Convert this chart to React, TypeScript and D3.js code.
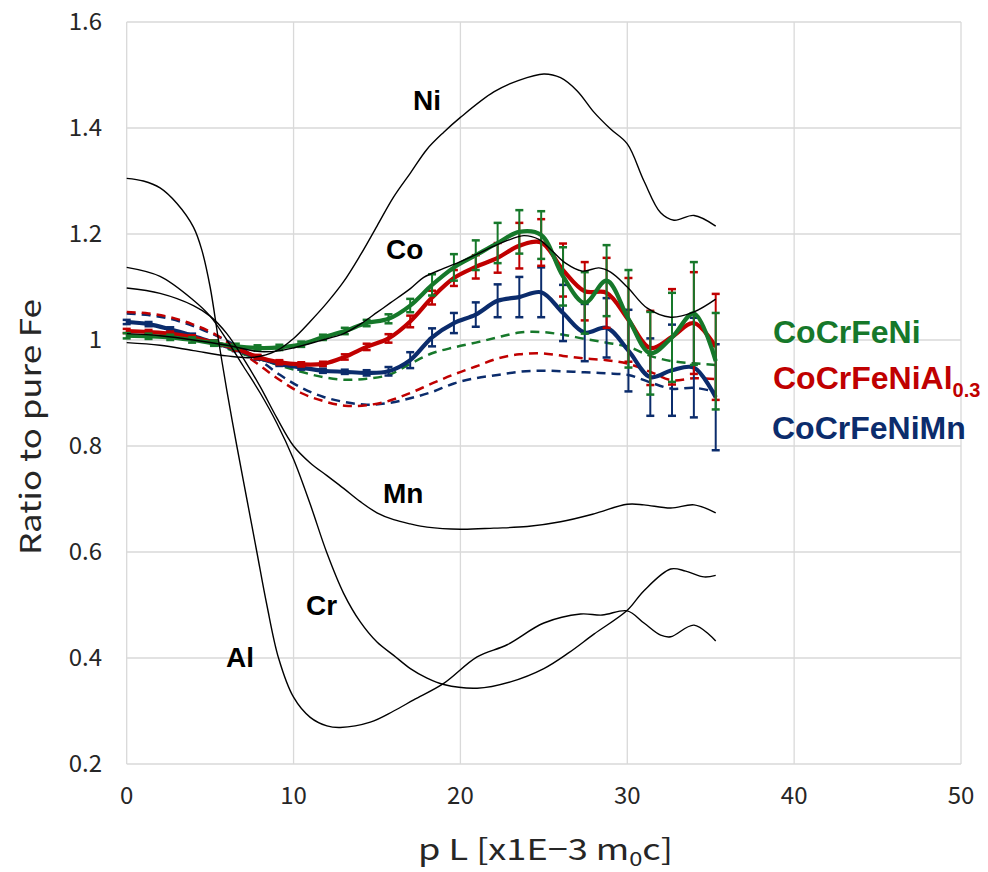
import React from "react";
import * as d3 from "d3";

// momentum grid of the measured (solid) and simulated (dashed) series
const pL = [0, 1.31, 2.61, 3.92, 5.23, 6.54, 7.84, 9.15, 10.46, 11.76, 13.07, 14.38, 15.69, 16.99,
  18.3, 19.61, 20.92, 22.23, 23.53, 24.84, 26.15, 27.45, 28.76, 30.07, 31.38, 32.68, 33.99, 35.3];

const niCrFe = [1.008, 1.007, 1.005, 1.0, 0.994, 0.988, 0.985, 0.986, 0.992, 1.005, 1.017, 1.032, 1.04, 1.065,
  1.104, 1.137, 1.16, 1.183, 1.204, 1.198, 1.12, 1.07, 1.112, 1.04, 0.975, 1.005, 1.05, 0.96];
const niCrFeErr = [0.005, 0.005, 0.005, 0.005, 0.005, 0.005, 0.005, 0.005, 0.005, 0.005, 0.006, 0.006, 0.0085, 0.0126,
  0.02, 0.025, 0.028, 0.038, 0.041, 0.045, 0.055, 0.058, 0.067, 0.092, 0.078, 0.084, 0.097, 0.091];
const niCrFeCalc = [1.035, 1.03, 1.02, 1.008, 0.993, 0.978, 0.965, 0.952, 0.94, 0.93, 0.925, 0.927, 0.934, 0.955,
  0.975, 0.986, 0.995, 1.005, 1.014, 1.015, 1.01, 1.002, 0.995, 0.987, 0.97, 0.96, 0.956, 0.953];

const al03 = [1.017, 1.015, 1.012, 1.005, 0.995, 0.984, 0.968, 0.958, 0.954, 0.955, 0.968, 0.987, 1.003, 1.035,
  1.08, 1.117, 1.138, 1.155, 1.178, 1.184, 1.132, 1.092, 1.089, 1.038, 0.985, 1.006, 1.032, 0.987];
const al03Err = [0.004, 0.004, 0.004, 0.004, 0.004, 0.004, 0.004, 0.004, 0.004, 0.004, 0.005, 0.006, 0.008, 0.011,
  0.013, 0.015, 0.022, 0.028, 0.043, 0.044, 0.05, 0.055, 0.066, 0.079, 0.07, 0.09, 0.096, 0.1];
const al03Calc = [1.053, 1.05, 1.043, 1.03, 1.012, 0.985, 0.955, 0.925, 0.9, 0.885, 0.876, 0.877, 0.885, 0.9,
  0.918, 0.935, 0.95, 0.965, 0.973, 0.975, 0.97, 0.965, 0.962, 0.955, 0.94, 0.924, 0.928, 0.926];

const mnAlloy = [1.034, 1.03, 1.02, 1.008, 0.995, 0.983, 0.967, 0.955, 0.948, 0.942, 0.94, 0.938, 0.941, 0.962,
  1.005, 1.032, 1.048, 1.074, 1.081, 1.09, 1.051, 1.014, 1.023, 0.98, 0.93, 0.943, 0.948, 0.892];
const mnAlloyErr = [0.004, 0.004, 0.004, 0.004, 0.004, 0.004, 0.004, 0.004, 0.004, 0.004, 0.004, 0.005, 0.008, 0.015,
  0.017, 0.019, 0.023, 0.031, 0.038, 0.047, 0.053, 0.054, 0.056, 0.077, 0.073, 0.086, 0.094, 0.1];
const mnAlloyCalc = [1.05, 1.047, 1.04, 1.027, 1.01, 0.99, 0.965, 0.935, 0.91, 0.893, 0.883, 0.878, 0.881, 0.89,
  0.902, 0.918, 0.928, 0.934, 0.94, 0.942, 0.941, 0.939, 0.937, 0.934, 0.92, 0.908, 0.91, 0.902];

// pure element curves [pL, ratio]
const ni = [[0, 0.995], [2, 0.99], [4, 0.98], [6, 0.97], [7.5, 0.967], [9, 0.98], [10, 1.003], [11, 1.035], [12, 1.07],
  [13, 1.11], [14, 1.16], [15, 1.215], [16, 1.27], [17, 1.315], [18, 1.36], [19, 1.392], [20, 1.42], [22, 1.468],
  [23.5, 1.49], [25, 1.502], [26, 1.495], [27, 1.47], [28, 1.43], [29, 1.398], [30, 1.37], [31, 1.3], [32, 1.24],
  [32.8, 1.226], [34, 1.235], [35.3, 1.215]];
const co = [[0, 1.012], [2, 1.008], [4, 1.0], [6, 0.99], [8, 0.978], [9.2, 0.98], [10, 0.985], [11.5, 0.998], [13, 1.012],
  [14, 1.03], [15, 1.052], [15.8, 1.07], [17, 1.097], [17.8, 1.118], [19, 1.135], [20, 1.148], [21, 1.162], [22, 1.177],
  [23, 1.19], [23.8, 1.197], [24.7, 1.19], [25.5, 1.168], [26.3, 1.145], [27.3, 1.13], [28.3, 1.136], [29, 1.128],
  [30, 1.1], [31.2, 1.06], [32.6, 1.043], [34, 1.053], [35.3, 1.077]];
const mn = [[0, 1.098], [2, 1.088], [4, 1.065], [5, 1.045], [6, 1.012], [7, 0.965], [8, 0.912], [9, 0.853], [10, 0.8],
  [11, 0.768], [12, 0.744], [13, 0.72], [14, 0.695], [15, 0.674], [16, 0.661], [17, 0.653], [18, 0.647], [20, 0.643],
  [22, 0.645], [24, 0.648], [26, 0.657], [28, 0.672], [30, 0.69], [31, 0.689], [32.6, 0.683], [34, 0.689], [35.3, 0.674]];
const cr = [[0, 1.137], [2, 1.12], [4, 1.075], [5, 1.045], [6, 1.0], [7, 0.95], [8, 0.9], [9, 0.843], [10, 0.775],
  [11, 0.69], [12, 0.598], [13, 0.522], [14, 0.468], [15, 0.43], [16, 0.405], [17, 0.38], [18, 0.362], [19, 0.35],
  [21, 0.343], [23, 0.355], [25, 0.38], [26.5, 0.41], [28, 0.445], [30, 0.49], [31, 0.527], [32.6, 0.568],
  [33.5, 0.564], [34.6, 0.553], [35.3, 0.556]];
const al = [[0, 1.305], [1, 1.3], [2, 1.287], [3, 1.258], [4, 1.213], [4.5, 1.17], [5, 1.1], [5.5, 1.0], [6, 0.905],
  [6.6, 0.8], [7.2, 0.7], [7.8, 0.6], [8.4, 0.5], [9.1, 0.4], [10, 0.326], [11, 0.288], [12, 0.272], [12.8, 0.269],
  [14.6, 0.279], [16, 0.3], [17.2, 0.321], [19, 0.352], [21, 0.402], [22.8, 0.425], [25, 0.466], [27.2, 0.483],
  [28.5, 0.481], [30, 0.489], [31, 0.466], [32, 0.443], [32.6, 0.44], [34, 0.462], [35.3, 0.432]];

const xTicks = [0, 10, 20, 30, 40, 50];
const yTicks = [0.2, 0.4, 0.6, 0.8, 1, 1.2, 1.4, 1.6];

const GREEN = "#16782a";
const RED = "#c00000";
const BLUE = "#0b2c6c";

const App = () => {
  const x = d3.scaleLinear().domain([0, 50]).range([126.7, 961]);
  const y = d3.scaleLinear().domain([0.2, 1.6]).range([764, 22]);

  const smooth = d3.line<number[]>()
    .x(d => x(d[0]))
    .y(d => y(d[1]))
    .curve(d3.curveCatmullRom.alpha(0.5));

  const series = (vals: number[]) => vals.map((v, i) => [pL[i], v]);

  const measured = [
    { vals: mnAlloy, err: mnAlloyErr, calc: mnAlloyCalc, color: BLUE },
    { vals: al03, err: al03Err, calc: al03Calc, color: RED },
    { vals: niCrFe, err: niCrFeErr, calc: niCrFeCalc, color: GREEN },
  ];

  const elements = [
    { pts: ni, name: "Ni", lx: 413, ly: 110 },
    { pts: co, name: "Co", lx: 386, ly: 259 },
    { pts: mn, name: "Mn", lx: 383, ly: 503 },
    { pts: cr, name: "Cr", lx: 306, ly: 615 },
    { pts: al, name: "Al", lx: 226, ly: 667 },
  ];

  const bold = "'Liberation Sans', Arial, sans-serif";
  const axisFont = "'Noto Sans CJK JP', 'Noto Sans', sans-serif";

  return (
    <svg width={988} height={872} style={{ position: "absolute", left: 0, top: 0, background: "#fff" }}>
      {/* grid */}
      {xTicks.map(t => (
        <line key={"gx" + t} x1={x(t)} x2={x(t)} y1={y(1.6)} y2={y(0.2)} stroke="#d9d9d9" strokeWidth={1.3} />
      ))}
      {yTicks.map(t => (
        <line key={"gy" + t} x1={x(0)} x2={x(50)} y1={y(t)} y2={y(t)} stroke="#d9d9d9" strokeWidth={1.3} />
      ))}

      {/* tick labels */}
      {yTicks.map(t => (
        <text key={"ty" + t} x={102} y={y(t)} dy="0.35em" textAnchor="end" fontFamily={axisFont}
          fontSize={24} fill="#262626">{String(+t.toFixed(1))}</text>
      ))}
      {xTicks.map(t => (
        <text key={"tx" + t} x={x(t)} y={804} textAnchor="middle" fontFamily={axisFont}
          fontSize={24} fill="#262626">{t}</text>
      ))}

      {/* axis titles */}
      <text x={418} y={860} fontFamily={axisFont} fontSize={29} fill="#262626"
        textLength={255} lengthAdjust="spacingAndGlyphs">
        p L [x1E−3 m<tspan fontSize={19} dy={6}>0</tspan><tspan dy={-6}>c]</tspan>
      </text>
      <text transform={`translate(41, ${555}) rotate(-90)`} fontFamily={axisFont}
        fontSize={29} fill="#262626" textLength={256} lengthAdjust="spacingAndGlyphs">Ratio to pure Fe</text>

      {/* simulated (dashed) */}
      {measured.map(s => (
        <path key={"c" + s.color} d={smooth(series(s.calc)) || ""} fill="none" stroke={s.color}
          strokeWidth={2.5} strokeDasharray="9,6" />
      ))}

      {/* measured (solid + error bars) */}
      {measured.map(s => (
        <g key={"m" + s.color}>
          <path d={smooth(series(s.vals)) || ""} fill="none" stroke={s.color} strokeWidth={4.2} />
          {s.vals.map((v, i) => {
            const cx = x(pL[i]);
            const top = y(v + s.err[i]);
            const bot = y(v - s.err[i]);
            return (
              <g key={i} stroke={s.color}>
                <line x1={cx} x2={cx} y1={top} y2={bot} strokeWidth={2} />
                <line x1={cx - 4} x2={cx + 4} y1={top} y2={top} strokeWidth={2.5} />
                <line x1={cx - 4} x2={cx + 4} y1={bot} y2={bot} strokeWidth={2.5} />
              </g>
            );
          })}
        </g>
      ))}

      {/* pure elements */}
      {elements.map(e => (
        <path key={"e" + e.name} d={smooth(e.pts) || ""} fill="none" stroke="#000" strokeWidth={1.4} />
      ))}
      {elements.map(e => (
        <text key={"l" + e.name} x={e.lx} y={e.ly} fontFamily={bold} fontWeight="bold" fontSize={28}
          fill="#000">{e.name}</text>
      ))}

      {/* legend */}
      <text x={773} y={343} fontFamily={bold} fontWeight="bold" fontSize={32} fill={GREEN}>CoCrFeNi</text>
      <text x={773} y={389} fontFamily={bold} fontWeight="bold" fontSize={32} fill={RED}>
        CoCrFeNiAl<tspan fontSize={20} dy={8}>0.3</tspan>
      </text>
      <text x={772} y={439} fontFamily={bold} fontWeight="bold" fontSize={32} fill={BLUE}>CoCrFeNiMn</text>
    </svg>
  );
};

export default App;
